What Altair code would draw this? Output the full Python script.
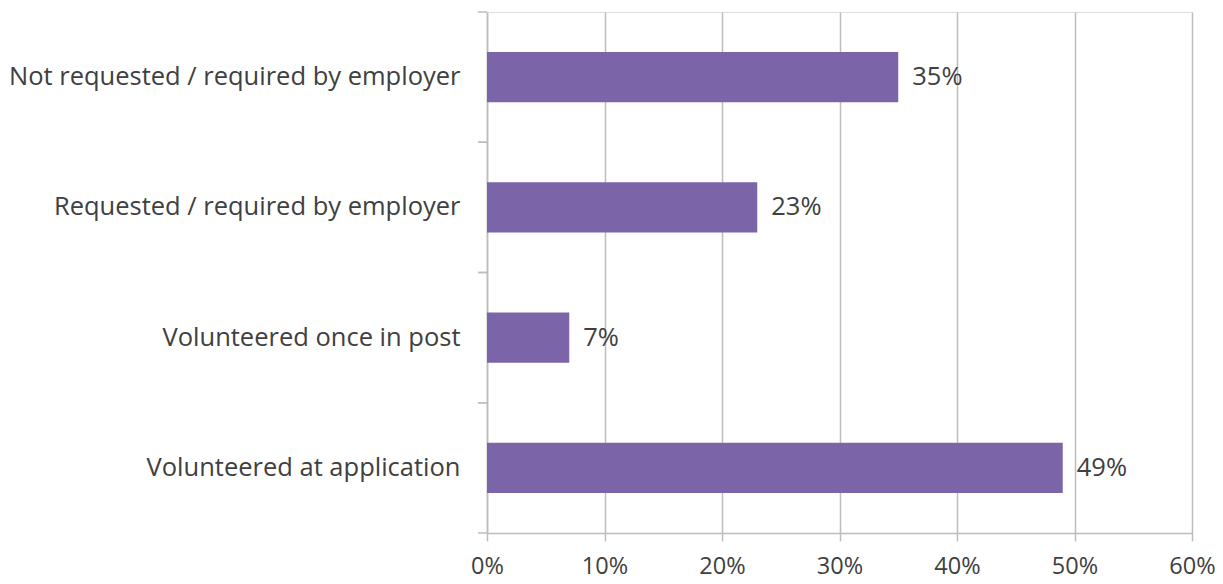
import altair as alt
import pandas as pd

categories = [
    "Not requested / required by employer",
    "Requested / required by employer",
    "Volunteered once in post",
    "Volunteered at application",
]
values = [0.35, 0.23, 0.07, 0.49]
x_ticks = [0, 0.1, 0.2, 0.3, 0.4, 0.5, 0.6]

df = pd.DataFrame({"cat": categories, "val": values})

FONT = "Open Sans"
FS = 25.5
TXT = "#404040"
GRID = "#BDBDBD"

yscale = alt.Scale(domain=categories, paddingInner=0, paddingOuter=0)

base = alt.Chart(df)

bars = base.mark_bar(color="#7B64A8", height=alt.RelativeBandSize(0.385)).encode(
    x=alt.X(
        "val:Q",
        scale=alt.Scale(domain=[0, 0.6], nice=False),
        axis=alt.Axis(
            values=x_ticks,
            format=".0%",
            title=None,
            grid=True,
            gridColor=GRID,
            gridWidth=1.5,
            domainColor=GRID,
            domainWidth=1.5,
            tickColor=GRID,
            tickWidth=1.5,
            tickSize=8,
            labelFont=FONT,
            labelFontSize=23.5,
            labelColor=TXT,
            labelPadding=13,
            labelFlush=False,
        ),
    ),
    y=alt.Y(
        "cat:N",
        sort=categories,
        scale=yscale,
        axis=alt.Axis(
            title=None,
            ticks=False,
            grid=False,
            domainColor=GRID,
            domainWidth=1.5,
            labelFont=FONT,
            labelFontSize=FS,
            labelColor=TXT,
            labelPadding=27,
            labelLimit=0,
        ),
    ),
)

labels = base.mark_text(
    align="left", baseline="middle", dx=14, font=FONT, fontSize=FS, color=TXT
).encode(
    x=alt.X("val:Q"),
    y=alt.Y("cat:N", sort=categories, scale=yscale),
    text=alt.Text("val:Q", format=".0%"),
)

ticks_top = base.mark_rule(color=GRID, strokeWidth=1.5).encode(
    x=alt.value(-9),
    x2=alt.value(0),
    y=alt.Y("cat:N", sort=categories, scale=yscale, bandPosition=0),
)
ticks_bot = base.mark_rule(color=GRID, strokeWidth=1.5).encode(
    x=alt.value(-9),
    x2=alt.value(0),
    y=alt.Y("cat:N", sort=categories, scale=yscale, bandPosition=1),
)

chart = (
    alt.layer(bars, labels, ticks_top, ticks_bot)
    .properties(
        width=705,
        height=521,
        autosize=alt.AutoSizeParams(type="none"),
        padding={"left": 479, "top": 4, "right": 23, "bottom": 51},
    )
    .configure_view(stroke=None)
    .configure(background="white")
)

chart.save("out.html", embed_options={"renderer": "svg", "actions": False})
